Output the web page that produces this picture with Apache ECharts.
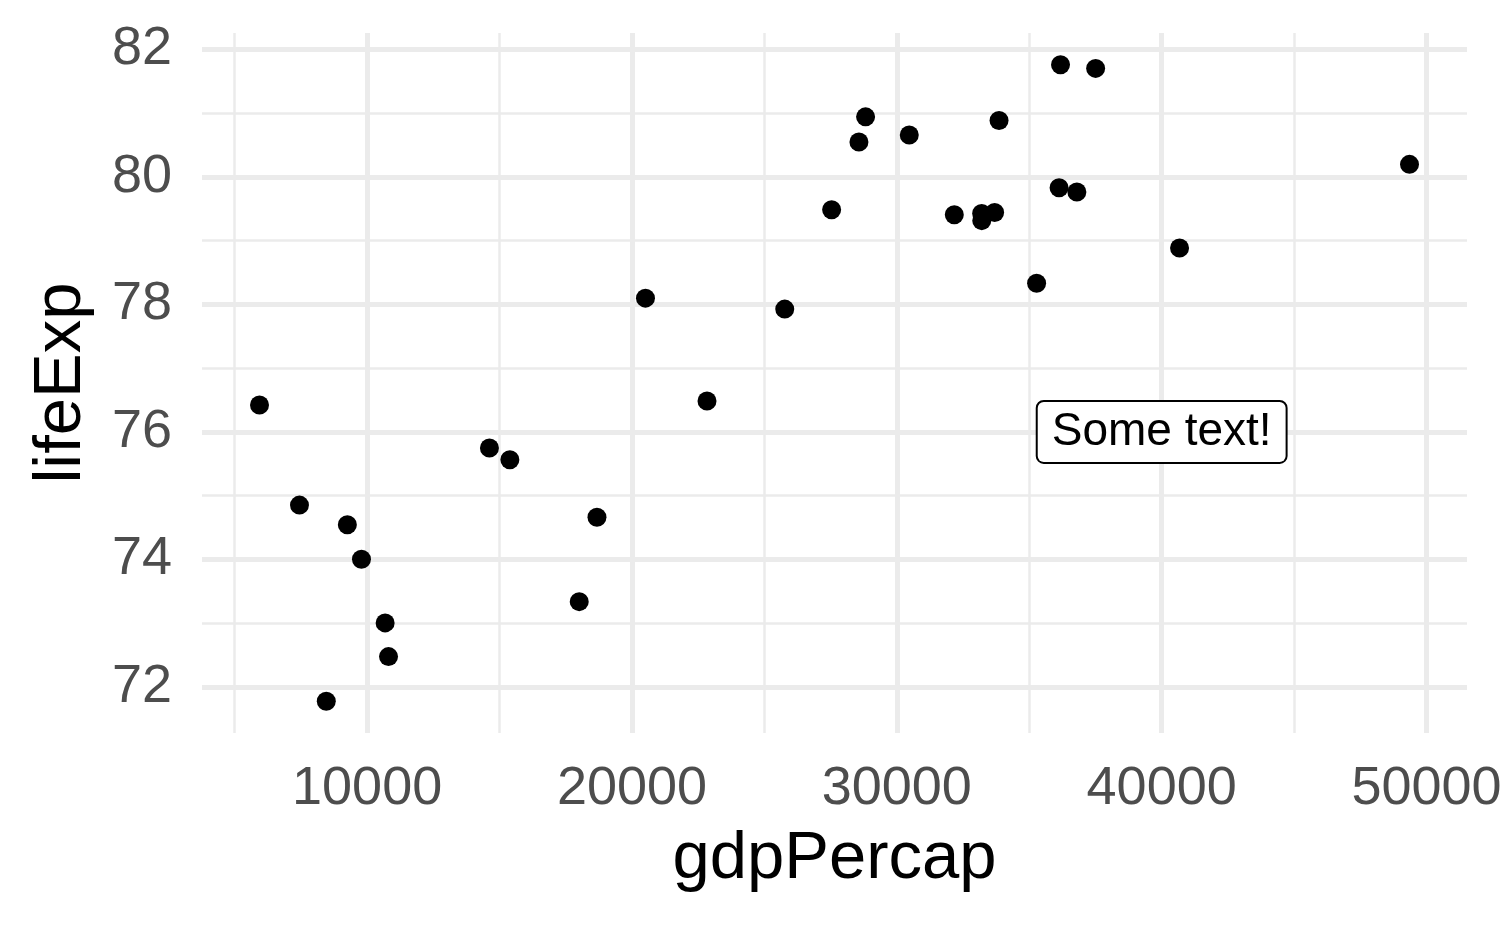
<!DOCTYPE html>
<html>
<head>
<meta charset="utf-8">
<script src="https://cdn.jsdelivr.net/npm/echarts@6/dist/echarts.min.js"></script>
<style>html,body{margin:0;padding:0;background:#fff;}#chart{width:1500px;height:927px;}</style>
</head>
<body>
<div id="chart"></div>
<script>
const countries = ["Albania","Austria","Belgium","Bosnia and Herzegovina","Bulgaria","Croatia","Czech Republic","Denmark","Finland","France","Germany","Greece","Hungary","Iceland","Ireland","Italy","Montenegro","Netherlands","Norway","Poland","Portugal","Romania","Serbia","Slovak Republic","Slovenia","Spain","Sweden","Switzerland","Turkey","United Kingdom"];
const gdpPercap = [5937.03,36126.49,33692.61,7446.30,10680.79,14619.22,22833.31,35278.42,33207.08,30470.02,32170.37,27538.41,18008.94,36180.79,40675.00,28569.72,9253.90,36797.93,49357.19,15389.92,20509.65,10808.48,9786.53,18678.31,25768.26,28821.06,33859.75,37506.42,8458.16,33203.26];
const lifeExp = [76.423,79.829,79.441,74.852,73.005,75.748,76.486,78.332,79.313,80.657,79.406,79.483,73.338,81.757,78.885,80.546,74.543,79.762,80.196,75.563,78.098,72.476,74.002,74.663,77.926,80.941,80.884,81.701,71.777,79.425];
const xMajorTicks = [10000,20000,30000,40000,50000];
const xMinorTicks = [5000,15000,25000,35000,45000];
const yMajorTicks = [72,74,76,78,80,82];
const yMinorTicks = [71,73,75,77,79,81];
const annotation = {x: 40000, y: 76, text: "Some text!"};

const xPad = (Math.max(...gdpPercap) - Math.min(...gdpPercap)) * 0.05;
const yPad = (Math.max(...lifeExp) - Math.min(...lifeExp)) * 0.05;
const xMin = Math.min(...gdpPercap) - xPad, xMax = Math.max(...gdpPercap) + xPad;
const yMin = Math.min(...lifeExp) - yPad, yMax = Math.max(...lifeExp) + yPad;

const font = "Liberation Sans, Helvetica, Arial, sans-serif";
const gridColor = "#EBEBEB";
const lineData = [];
xMinorTicks.forEach(v => lineData.push({xAxis: v, lineStyle: {width: 2.5, color: gridColor, type: 'solid'}}));
yMinorTicks.forEach(v => lineData.push({yAxis: v, lineStyle: {width: 2.5, color: gridColor, type: 'solid'}}));
xMajorTicks.forEach(v => lineData.push({xAxis: v, lineStyle: {width: 5, color: gridColor, type: 'solid'}}));
yMajorTicks.forEach(v => lineData.push({yAxis: v, lineStyle: {width: 5, color: gridColor, type: 'solid'}}));

const chart = echarts.init(document.getElementById('chart'), null, {renderer: 'canvas'});
chart.setOption({
  animation: false,
  backgroundColor: '#fff',
  grid: {left: 202, right: 33, top: 33, bottom: 194, containLabel: false, outerBoundsMode: 'none'},
  xAxis: {
    type: 'value', min: xMin, max: xMax,
    name: 'gdpPercap', nameLocation: 'middle', nameGap: 93,
    nameTextStyle: {fontFamily: font, fontSize: 67, color: '#000'},
    axisLine: {show: false}, axisTick: {show: false}, splitLine: {show: false},
    axisLabel: {customValues: xMajorTicks, formatter: v => String(v), fontFamily: font, fontSize: 54, color: '#4D4D4D', margin: 29}
  },
  yAxis: {
    type: 'value', min: yMin, max: yMax,
    name: 'lifeExp', nameLocation: 'middle', nameGap: 107,
    nameTextStyle: {fontFamily: font, fontSize: 67, color: '#000'},
    axisLine: {show: false}, axisTick: {show: false}, splitLine: {show: false},
    axisLabel: {customValues: yMajorTicks, formatter: v => String(v), fontFamily: font, fontSize: 54, color: '#4D4D4D', margin: 30}
  },
  series: [
    {
      type: 'scatter', data: [], zlevel: 0, z: 1, silent: true,
      markLine: {silent: true, symbol: 'none', label: {show: false}, animation: false, data: lineData}
    },
    {
      type: 'scatter', zlevel: 1, z: 3,
      data: gdpPercap.map((g, i) => [g, lifeExp[i], countries[i]]),
      symbol: 'circle', symbolSize: 19,
      itemStyle: {color: '#000', opacity: 1}
    },
    {
      type: 'scatter', zlevel: 1, z: 4,
      data: [[annotation.x, annotation.y, annotation.text]],
      symbolSize: 1, itemStyle: {color: 'rgba(0,0,0,0)'},
      label: {
        show: true, position: 'inside', formatter: p => p.data[2],
        fontFamily: font, fontSize: 46, color: '#000', opacity: 1,
        textBorderWidth: 0,
        backgroundColor: '#fff', borderColor: '#000', borderWidth: 2, borderRadius: 6,
        padding: [8, 14, 6, 14]
      }
    }
  ]
});
</script>
</body>
</html>
